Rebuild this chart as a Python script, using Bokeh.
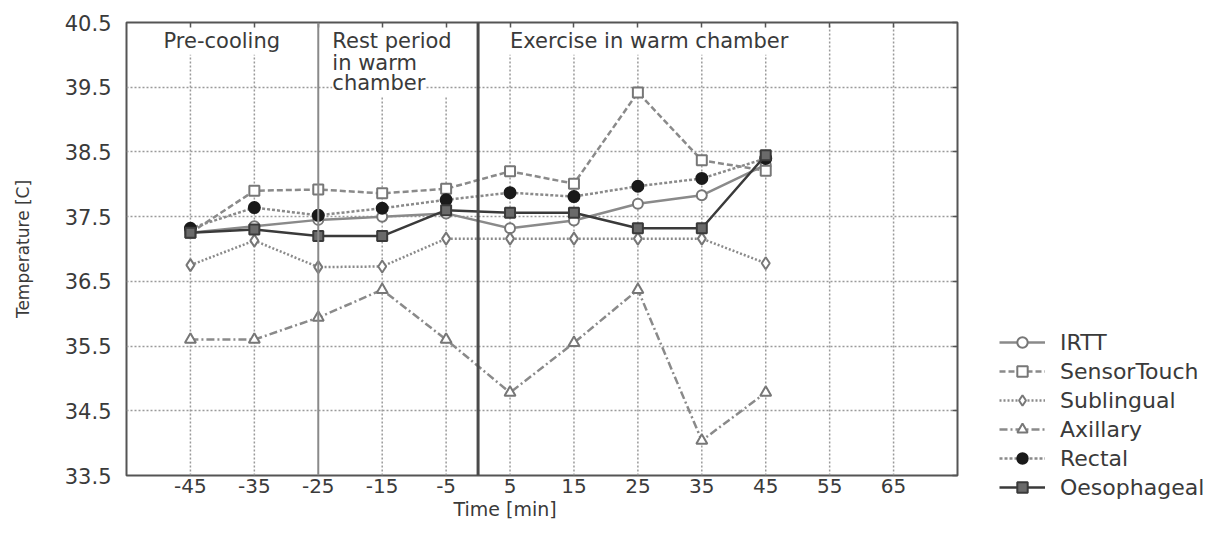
from bokeh.plotting import figure
from bokeh.layouts import row
from bokeh.models import Legend, LegendItem, FixedTicker, Span, Label, Range1d, Title, LinearAxis
from bokeh.embed import file_html
from bokeh.resources import INLINE

# ---------------- data ----------------
times = [-45, -35, -25, -15, -5, 5, 15, 25, 35, 45]
irtt = [37.25, 37.35, 37.45, 37.50, 37.55, 37.32, 37.44, 37.70, 37.83, 38.30]
sensortouch = [37.25, 37.90, 37.92, 37.86, 37.93, 38.20, 38.01, 39.42, 38.37, 38.21]
sublingual = [36.75, 37.13, 36.72, 36.73, 37.16, 37.16, 37.16, 37.16, 37.16, 36.78]
axillary = [35.60, 35.60, 35.94, 36.37, 35.60, 34.78, 35.55, 36.37, 34.04, 34.78]
rectal = [37.32, 37.64, 37.52, 37.63, 37.76, 37.87, 37.81, 37.97, 38.09, 38.40]
oesophageal = [37.25, 37.30, 37.20, 37.20, 37.60, 37.56, 37.56, 37.32, 37.32, 38.45]

x_ticks = [-45, -35, -25, -15, -5, 5, 15, 25, 35, 45, 55, 65]
y_ticks = [33.5, 34.5, 35.5, 36.5, 37.5, 38.5, 39.5, 40.5]
phase_labels = ["Pre-cooling", "Rest period\nin warm\nchamber", "Exercise in warm chamber"]
series_names = ["IRTT", "SensorTouch", "Sublingual", "Axillary", "Rectal", "Oesophageal"]

FONT = "DejaVu Sans"
TXT = "#3a3a3a"
LINE = "#8a8a8a"
H = 522

p = figure(width=990, height=H, x_range=Range1d(-55, 75), y_range=Range1d(33.5, 40.5),
           output_backend="svg", toolbar_location=None,
           min_border_left=126, min_border_right=33, min_border_top=22, min_border_bottom=47)
p.frame_align = False
p.background_fill_color = "white"
p.border_fill_color = "white"
p.outline_line_color = "#555555"
p.outline_line_width = 2

# axes
p.xaxis.ticker = FixedTicker(ticks=x_ticks)
p.yaxis.ticker = FixedTicker(ticks=y_ticks)
p.xaxis.major_label_overrides = {t: str(t) for t in x_ticks}
for ax in (p.xaxis[0], p.yaxis[0]):
    ax.axis_line_color = None
    ax.major_tick_out = 0
    ax.major_tick_in = 0
    ax.minor_tick_out = 0
    ax.minor_tick_in = 0
    ax.major_label_text_font = FONT
    ax.major_label_text_color = TXT
p.xaxis.major_label_text_font_size = "20px"
p.yaxis.major_label_text_font_size = "21px"
p.xaxis.major_label_standoff = 3
p.yaxis.major_label_standoff = 15
p.yaxis.axis_label = "Temperature [C]"
p.yaxis.axis_label_text_font = FONT
p.yaxis.axis_label_text_font_size = "17px"
p.yaxis.axis_label_text_font_style = "normal"
p.yaxis.axis_label_text_color = TXT
p.yaxis.axis_label_standoff = 29

# small inward ticks on the top and right edges of the frame
top_ax = LinearAxis(ticker=FixedTicker(ticks=x_ticks), major_label_overrides={t: "" for t in x_ticks},
                    axis_line_color=None, major_tick_in=5, major_tick_out=0, minor_tick_in=0,
                    minor_tick_out=0, major_tick_line_color="#555555", major_tick_line_width=1.5,
                    major_label_standoff=0, major_label_text_font_size="1px")
right_ax = LinearAxis(ticker=FixedTicker(ticks=y_ticks), major_label_overrides={t: "" for t in y_ticks},
                      axis_line_color=None, major_tick_in=5, major_tick_out=0, minor_tick_in=0,
                      minor_tick_out=0, major_tick_line_color="#555555", major_tick_line_width=1.5,
                      major_label_standoff=0, major_label_text_font_size="1px")
p.add_layout(top_ax, "above")
p.add_layout(right_ax, "right")

# x axis title
p.add_layout(Title(text="Time  [min]", align="left", offset=327, standoff=0,
                   text_font=FONT, text_font_size="19px", text_font_style="normal",
                   text_color=TXT), "below")

# grids
p.xgrid.visible = False
p.ygrid.ticker = FixedTicker(ticks=y_ticks[1:-1])
p.ygrid.grid_line_color = "#9a9a9a"
p.ygrid.grid_line_dash = "2 2"
p.ygrid.grid_line_width = 1.5

grid_tops = {-45: 40.0, -35: 40.0, -15: 39.35, -5: 39.35, 5: 40.0, 15: 40.0, 25: 40.0,
             35: 40.0, 45: 40.0, 55: 40.5, 65: 40.5}
gx = [t for t in x_ticks if t in grid_tops]
p.segment(x0=gx, y0=[33.5] * len(gx), x1=gx, y1=[grid_tops[t] for t in gx],
          line_color="#9a9a9a", line_dash="2 2", line_width=1.5)

p.add_layout(Span(location=-25, dimension="height", line_color="#8a8a8a", line_width=2))
p.add_layout(Span(location=0, dimension="height", line_color="#4a4a4a", line_width=3))

# phase labels
p.add_layout(Label(x=-49.2, y=40.21, text=phase_labels[0], text_font=FONT, text_font_size="21px",
                   text_color=TXT, text_baseline="middle"))
rest_lines = phase_labels[1].split("\n")
for i, yy in enumerate([40.21, 39.88, 39.56]):
    p.add_layout(Label(x=-22.8, y=yy, text=rest_lines[i], text_font=FONT, text_font_size="21px",
                       text_color=TXT, text_baseline="middle",
                       background_fill_color="white" if i == 2 else None))
p.add_layout(Label(x=5.0, y=40.21, text=phase_labels[2], text_font=FONT, text_font_size="21px",
                   text_color=TXT, text_baseline="middle"))

# series
styles = [
    (irtt, "circle", "solid", "#777777", "white", 10),
    (sensortouch, "square", "6 3", "#777777", "white", 10),
    (sublingual, "diamond", "2 2", "#777777", "white", 12),
    (axillary, "triangle", "8 3 2 3", "#777777", "white", 11),
    (rectal, "circle", "3 2", "#1a1a1a", "#1a1a1a", 11),
    (oesophageal, "square", "solid", "#3a3a3a", "#6a6a6a", 10),
]

# legend panel (separate figure so it may sit beside/below the frame)
p2 = figure(width=214, height=H, x_range=Range1d(0, 214), y_range=Range1d(0, H),
            output_backend="svg", toolbar_location=None,
            x_axis_location=None, y_axis_location=None,
            min_border_left=0, min_border_right=0, min_border_top=0, min_border_bottom=0)
p2.frame_align = False
p2.outline_line_color = None
p2.grid.visible = False

items = []
for name, (vals, marker, dash, mc, fc, sz) in zip(series_names, styles):
    line_col = "#3a3a3a" if name == "Oesophageal" else LINE
    p.line(times, vals, line_color=line_col, line_width=2.5, line_dash=dash)
    p.scatter(times, vals, marker=marker, size=sz, line_color=mc, fill_color=fc, line_width=2)
    l2 = p2.line([-50, -40], [-50, -50], line_color=line_col, line_width=2.5, line_dash=dash)
    s2 = p2.scatter([-50], [-50], marker=marker, size=sz, line_color=mc, fill_color=fc, line_width=2)
    items.append(LegendItem(label=name, renderers=[l2, s2]))

legend = Legend(items=items, location=(9, 22), label_text_font=FONT, label_text_font_size="22px",
                label_text_color=TXT, glyph_width=46, glyph_height=26, label_height=26,
                label_standoff=15, spacing=3, padding=0, margin=0,
                border_line_color=None, background_fill_color=None)
p2.add_layout(legend, "center")

open("out.html", "w").write(file_html(row(p, p2), INLINE))
